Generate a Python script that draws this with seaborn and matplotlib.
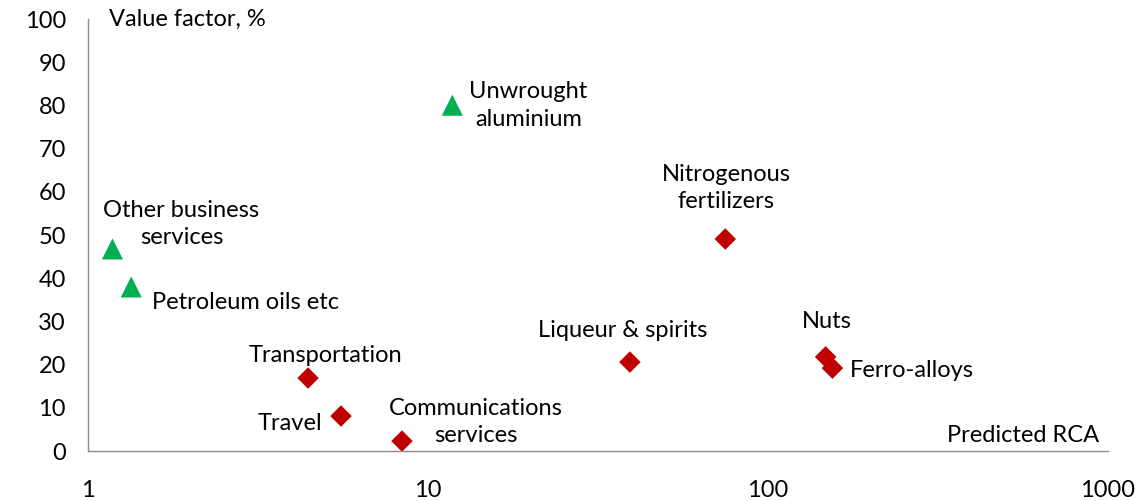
import matplotlib
matplotlib.use("Agg")
import matplotlib.pyplot as plt
from matplotlib.ticker import FixedLocator, FixedFormatter, NullLocator
import pandas as pd
import seaborn as sns

# data
products = ["Unwrought\naluminium", "Other business\nservices", "Petroleum oils etc",
            "Nitrogenous\nfertilizers", "Transportation", "Travel",
            "Communications\nservices", "Liqueur & spirits", "Nuts", "Ferro-alloys"]
predicted_rca = [11.8, 1.18, 1.34, 75, 4.44, 5.55, 8.39, 39.3, 148, 155]
value_factor = [80.1, 46.8, 38.0, 49.1, 16.9, 8.1, 2.3, 20.6, 21.8, 19.2]
group = ["up", "up", "up", "down", "down", "down", "down", "down", "down", "down"]

# label placement (offset in pixels from the marker, horizontal alignment)
label_offsets = [(17, 0), (69, 25), (21, -16), (1, 51), (17, 23),
                 (-19, -7), (74, 19), (-7, 32), (1, 35), (17, -2)]
label_ha = ["left", "center", "left", "center", "center",
            "right", "center", "center", "center", "left"]

df = pd.DataFrame({"product": products, "rca": predicted_rca,
                   "value": value_factor, "group": group})

sns.set_style("white")
plt.rcParams["font.family"] = ["Lato", "DejaVu Sans"]
plt.rcParams["text.color"] = "black"

fig = plt.figure(figsize=(11.36, 5.01), dpi=100)
ax = fig.add_axes([0.0775, 0.0998, 0.8975, 0.8617])

palette = {"up": "#00B050", "down": "#C00000"}
markers = {"up": "^", "down": "D"}
sns.scatterplot(data=df, x="rca", y="value", hue="group", style="group",
                size="group", sizes={"up": 230, "down": 120},
                palette=palette, markers=markers, linewidth=0,
                legend=False, ax=ax)

ax.set_xscale("log")
ax.set_xlim(1, 1000)
ax.set_ylim(0, 100)
ax.xaxis.set_major_locator(FixedLocator([1, 10, 100, 1000]))
ax.xaxis.set_major_formatter(FixedFormatter(["1", "10", "100", "1000"]))
ax.xaxis.set_minor_locator(NullLocator())
ax.set_yticks(range(0, 101, 10))

for side in ["top", "right"]:
    ax.spines[side].set_visible(False)
for side in ["left", "bottom"]:
    ax.spines[side].set_color("#8c8c8c")
    ax.spines[side].set_linewidth(1.0)
ax.tick_params(axis="both", direction="out", length=5, width=1.0,
               color="#8c8c8c", labelsize=17, labelcolor="black")
ax.tick_params(axis="y", pad=11)
ax.tick_params(axis="x", pad=16)
ax.set_xlabel("")
ax.set_ylabel("")

for name, x, y, off, ha in zip(products, predicted_rca, value_factor,
                               label_offsets, label_ha):
    ax.annotate(name, (x, y), xytext=off, textcoords="offset pixels",
                ha=ha, va="center", multialignment="center", fontsize=17,
                linespacing=1.4, color="black")

ax.text(0.021, 1.0, "Value factor, %", transform=ax.transAxes,
        ha="left", va="center", fontsize=17, color="black")
ax.text(0.992, 0.035, "Predicted RCA", transform=ax.transAxes,
        ha="right", va="center", fontsize=17, color="black")

fig.savefig("out.png", dpi=100)
